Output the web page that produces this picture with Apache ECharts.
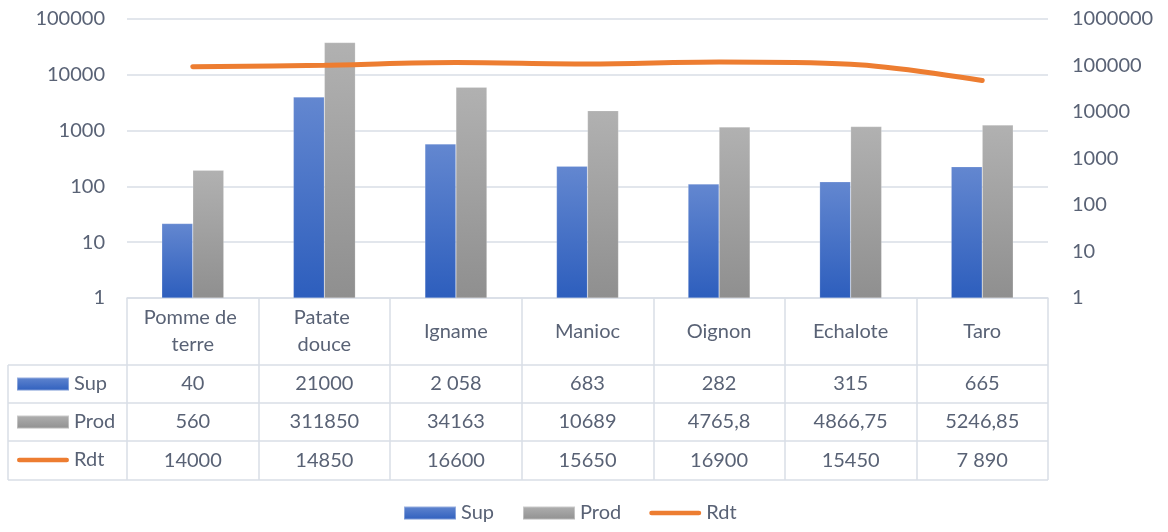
<!DOCTYPE html>
<html>
<head>
<meta charset="utf-8">
<script src="https://cdn.jsdelivr.net/npm/echarts@6/dist/echarts.min.js"></script>
<style>
  html, body { margin: 0; padding: 0; background: #fff; }
  #chart { width: 1168px; height: 532px; }
</style>
</head>
<body>
<div id="chart"></div>
<script>
// Crops (categories) and the table cells as written in the data table
const categories = ['Pomme de terre', 'Patate douce', 'Igname', 'Manioc', 'Oignon', 'Echalote', 'Taro'];
const supCells  = ['40', '21000', '2 058', '683', '282', '315', '665'];
const prodCells = ['560', '311850', '34163', '10689', '4765,8', '4866,75', '5246,85'];
const rdtCells  = ['14000', '14850', '16600', '15650', '16900', '15450', '7 890'];

// Axis ranges (log scale, base 10)
const leftRange  = [1, 100000];   // Rdt
const rightRange = [1, 1000000];  // Sup, Prod

// French-formatted cell text -> number
const toNumber = s => parseFloat(s.replace(/\s/g, '').replace(',', '.'));
const sup  = supCells.map(toNumber);
const prod = prodCells.map(toNumber);
const rdt  = rdtCells.map(toNumber);

const FONT = 'Lato';
const TEXT = '#596275';
const LINE = '#d9dee6';

// Plot and table geometry
const plot = { left: 127, right: 1048, top: 19, bottom: 298 };
const rowEdges = [298, 365, 403, 441, 480];   // header row, Sup, Prod, Rdt
const tableLeft = 8;
const rowCenter = i => (rowEdges[i] + rowEdges[i + 1]) / 2 - plot.bottom;

const supColor = new echarts.graphic.LinearGradient(0, 0, 0, 1, [
  { offset: 0, color: '#6387d0' }, { offset: 1, color: '#2d5ebd' }
]);
const prodColor = new echarts.graphic.LinearGradient(0, 0, 0, 1, [
  { offset: 0, color: '#b1b1b1' }, { offset: 1, color: '#8f8f8f' }
]);
const rdtColor = '#ed7d31';
const lineIcon = 'path://M2.5,0H53.5A2.5,2.5 0 0 1 53.5,5H2.5A2.5,2.5 0 0 1 2.5,0Z';

// Extra category axes that print one table row each
function rowAxis(cells, rowIndex) {
  return {
    type: 'category', gridIndex: 0, position: 'bottom', data: cells,
    axisLine: { show: false }, axisTick: { show: false },
    axisLabel: {
      interval: 0, margin: rowCenter(rowIndex), verticalAlign: 'middle',
      color: TEXT, fontFamily: FONT, fontSize: 20
    }
  };
}

const legendItems = [
  { name: 'Sup', icon: 'rect' },
  { name: 'Prod', icon: 'rect' },
  { name: 'Rdt', icon: lineIcon }
];
const legendText = { color: TEXT, fontFamily: FONT, fontSize: 20, lineHeight: 20 };

const chart = echarts.init(document.getElementById('chart'), null, { renderer: 'canvas' });

chart.setOption({
  animation: false,
  backgroundColor: '#fff',
  grid: {
    left: plot.left, right: 1168 - plot.right, top: plot.top, bottom: 532 - plot.bottom,
    containLabel: false
  },
  legend: [
    {
      // key column of the data table
      orient: 'vertical', left: 16, top: rowEdges[1] + 9, itemGap: 18, padding: 0,
      itemWidth: 52, itemHeight: 13,
      textStyle: legendText, data: legendItems, selectedMode: false
    },
    {
      orient: 'horizontal', left: 403, top: 503, itemGap: 28, padding: 0,
      itemWidth: 52, itemHeight: 13,
      textStyle: legendText, data: legendItems, selectedMode: false
    }
  ],
  xAxis: [
    {
      type: 'category', data: categories, position: 'bottom',
      axisLine: { onZero: false, lineStyle: { color: LINE, width: 1.5 } },
      axisTick: { show: true, length: rowEdges[4] - rowEdges[0], lineStyle: { color: LINE, width: 1.5 } },
      axisLabel: {
        interval: 0, margin: rowCenter(0), verticalAlign: 'middle',
        width: 108, overflow: 'break', lineHeight: 27,
        color: TEXT, fontFamily: FONT, fontSize: 20
      }
    },
    rowAxis(supCells, 1),
    rowAxis(prodCells, 2),
    rowAxis(rdtCells, 3)
  ],
  yAxis: [
    {
      type: 'log', logBase: 10, min: leftRange[0], max: leftRange[1], position: 'left',
      axisLine: { show: false }, axisTick: { show: false },
      splitLine: { show: true, lineStyle: { color: LINE, width: 1.5 } },
      axisLabel: {
        margin: 22, color: TEXT, fontFamily: FONT, fontSize: 20,
        formatter: v => String(Math.round(v))
      }
    },
    {
      type: 'log', logBase: 10, min: rightRange[0], max: rightRange[1], position: 'right',
      axisLine: { show: false }, axisTick: { show: false },
      splitLine: { show: false },
      axisLabel: {
        margin: 24, color: TEXT, fontFamily: FONT, fontSize: 20,
        formatter: v => String(Math.round(v))
      }
    }
  ],
  series: [
    {
      name: 'Sup', type: 'bar', xAxisIndex: 0, yAxisIndex: 1, data: sup,
      barWidth: 31, barGap: '0%',
      itemStyle: { color: supColor, borderColor: 'rgba(255,255,255,0.35)', borderWidth: 0.5 }
    },
    {
      name: 'Prod', type: 'bar', xAxisIndex: 0, yAxisIndex: 1, data: prod,
      barWidth: 31, barGap: '0%',
      itemStyle: { color: prodColor, borderColor: 'rgba(255,255,255,0.35)', borderWidth: 0.5 }
    },
    {
      name: 'Rdt', type: 'line', xAxisIndex: 0, yAxisIndex: 0, data: rdt,
      smooth: 0.35, symbol: 'none', showSymbol: false,
      lineStyle: { color: rdtColor, width: 5, cap: 'round' },
      itemStyle: { color: rdtColor }, z: 5
    }
  ],
  graphic: [
    // horizontal rules of the data table
    ...rowEdges.slice(1).map(y => ({
      type: 'line', silent: true,
      shape: { x1: tableLeft, y1: y, x2: plot.right, y2: y },
      style: { stroke: LINE, lineWidth: 1.5 }
    })),
    // left edge of the key column
    {
      type: 'line', silent: true,
      shape: { x1: tableLeft, y1: rowEdges[1], x2: tableLeft, y2: rowEdges[4] },
      style: { stroke: LINE, lineWidth: 1.5 }
    }
  ]
});
</script>
</body>
</html>
